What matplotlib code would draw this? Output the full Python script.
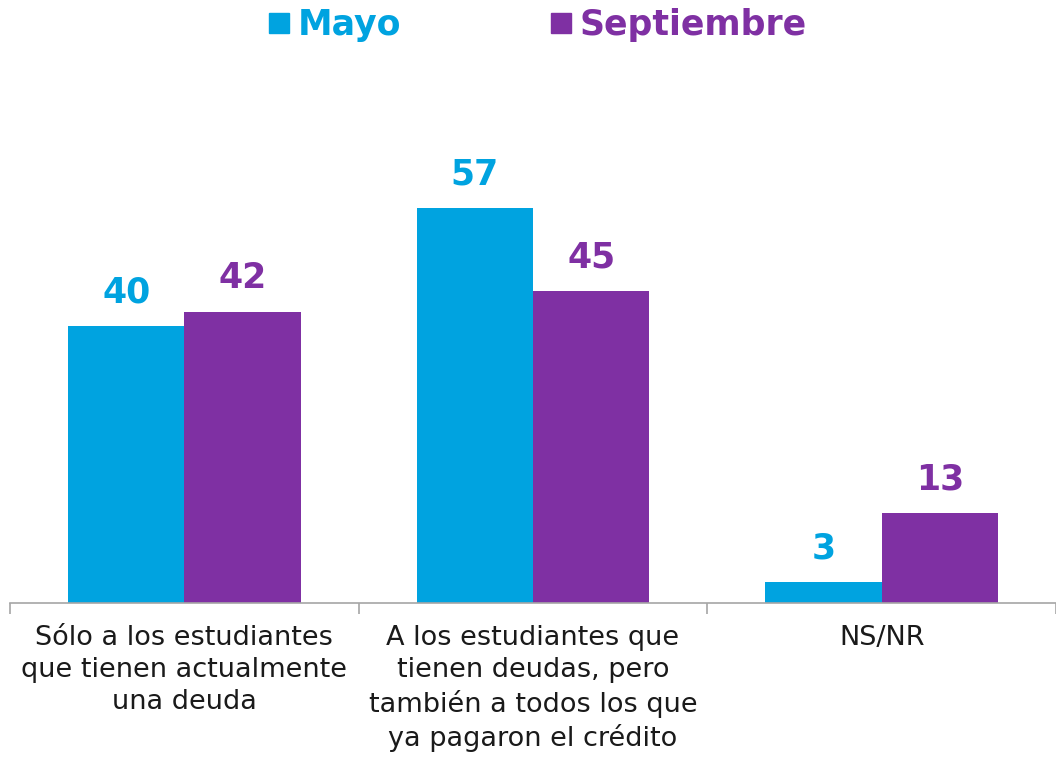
import numpy as np
from matplotlib import pyplot as plt
from matplotlib.lines import Line2D

categories = [
    "Sólo a los estudiantes\nque tienen actualmente\nuna deuda",
    "A los estudiantes que\ntienen deudas, pero\ntambién a todos los que\nya pagaron el crédito",
    "NS/NR",
]
series_names = ["Mayo", "Septiembre"]
mayo = [40, 57, 3]
septiembre = [42, 45, 13]

CYAN = "#00A3E0"
PURPLE = "#7F30A3"
GREY = "#A6A6A6"

plt.rcParams["font.family"] = ["DejaVu Sans"]

fig = plt.figure(figsize=(10.56, 7.59), dpi=100)
ax = fig.add_axes([10 / 1056, 156 / 759, 1046 / 1056, 563 / 759])

x = np.arange(len(categories))
width = 1 / 3
b1 = ax.bar(x - width / 2, mayo, width, color=CYAN)
b2 = ax.bar(x + width / 2, septiembre, width, color=PURPLE)

for bars, vals, c in [(b1, mayo, CYAN), (b2, septiembre, PURPLE)]:
    for bar, v in zip(bars, vals):
        ax.annotate(f"{v}", (bar.get_x() + bar.get_width() / 2, v),
                    xytext=(0, 12), textcoords="offset points",
                    ha="center", va="bottom", fontsize=25, fontweight="bold", color=c)

ax.set_xlim(-0.5, -0.5 + 1046 / 354)
ax.set_ylim(0, 563 / 6.93)

for s in ["top", "right", "left"]:
    ax.spines[s].set_visible(False)
ax.spines["bottom"].set_color(GREY)
ax.spines["bottom"].set_linewidth(1.2)
ax.set_yticks([])

ax.set_xticks(x)
ax.set_xticklabels(categories, fontsize=19.5, color="#1a1a1a", linespacing=1.3)
ax.tick_params(axis="x", which="major", length=0, pad=16)
ax.set_xticks([-0.5, 0.5, 1.5, 2.5], minor=True)
ax.tick_params(axis="x", which="minor", length=8, color=GREY, width=1.2, direction="out")

handles = [Line2D([], [], marker="s", linestyle="", color=c, markersize=15)
           for c in (CYAN, PURPLE)]
leg = fig.legend(handles, series_names, loc="center", bbox_to_anchor=(535 / 1056, 1 - 25 / 759),
                 ncol=2, frameon=False, handletextpad=0.1, columnspacing=4.15,
                 handlelength=0.9, prop={"size": 25, "weight": "bold"})
for t, c in zip(leg.get_texts(), (CYAN, PURPLE)):
    t.set_color(c)

plt.savefig("out.png", dpi=100)
